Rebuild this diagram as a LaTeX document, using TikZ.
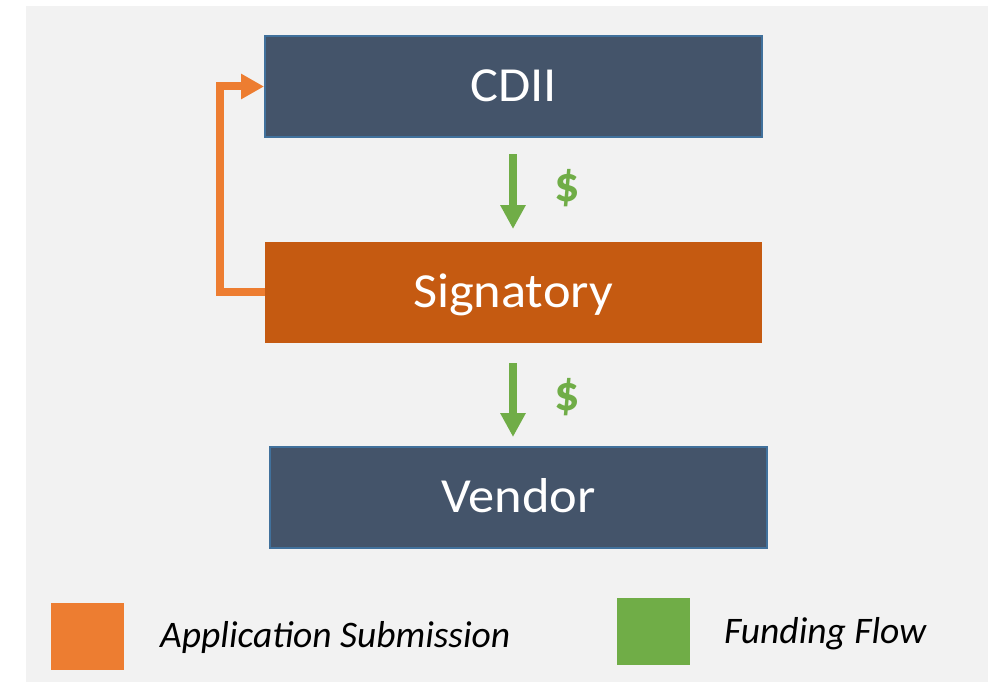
\documentclass[tikz,border=0pt]{standalone}
\usepackage{fontspec}
\setmainfont{Carlito}
\newfontfamily\boxfont[FakeStretch=1.07]{Carlito}
\usetikzlibrary{arrows.meta}
\definecolor{bg}{HTML}{F2F2F2}
\definecolor{slate}{HTML}{44546A}
\definecolor{slateedge}{HTML}{41719C}
\definecolor{rust}{HTML}{C55A11}
\definecolor{orng}{HTML}{ED7D31}
\definecolor{grn}{HTML}{70AD47}
\tikzset{
  box/.style={minimum width=497pt, minimum height=101pt, inner sep=0pt, text=white, text height=31pt, text depth=0pt, font=\boxfont\fontsize{49}{54}\selectfont},
  darkbox/.style={box, fill=slate, draw=slateedge, line width=2pt},
  orangebox/.style={box, fill=rust},
  fundarrow/.style={grn, line width=8pt, -{Triangle[length=24pt, width=24pt]}},
  apparrow/.style={orng, line width=8pt, -{Triangle[length=23pt, width=24pt]}},
  dollar/.style={text=grn, inner sep=0pt, font=\bfseries\fontsize{50}{54}\selectfont},
  legsq/.style={minimum width=73pt, minimum height=67pt, inner sep=0pt},
  legtext/.style={anchor=west, inner sep=0pt, text height=24pt, text depth=0pt, font=\itshape\fontsize{37.5}{42}\selectfont}
}
\begin{document}
\begin{tikzpicture}[x=1pt,y=-1pt]
\useasboundingbox (0,0) rectangle (992,682);
\fill[bg] (26,6) rectangle (988,682);
\node[darkbox] (cdii) at (513.5,86.5) {CDII};
\node[orangebox] (sig) at (513,292) {Signatory};
\node[darkbox] (vendor) at (518.5,497) {Vendor};
\coordinate (f1s) at (513,154);
\coordinate (f1e) at (513,229);
\coordinate (f2s) at (513,363);
\coordinate (f2e) at (513,437);
\draw[fundarrow] (f1s) -- (f1e);
\draw[fundarrow] (f2s) -- (f2e);
\node[dollar] (d1) at (567,188) {\$};
\node[dollar] (d2) at (567,397) {\$};
\draw[apparrow] ([xshift=1pt]sig.west) -- (220,292) |- (cdii.west);
\node[legsq, fill=orng] (lo) at (87.5,636.5) {};
\node[legtext] (la) at (160,635.5) {Application Submission};
\node[legsq, fill=grn] (lg) at (653.5,631.5) {};
\node[legtext] (lf) at (724,631) {Funding Flow};
\end{tikzpicture}
\end{document}
